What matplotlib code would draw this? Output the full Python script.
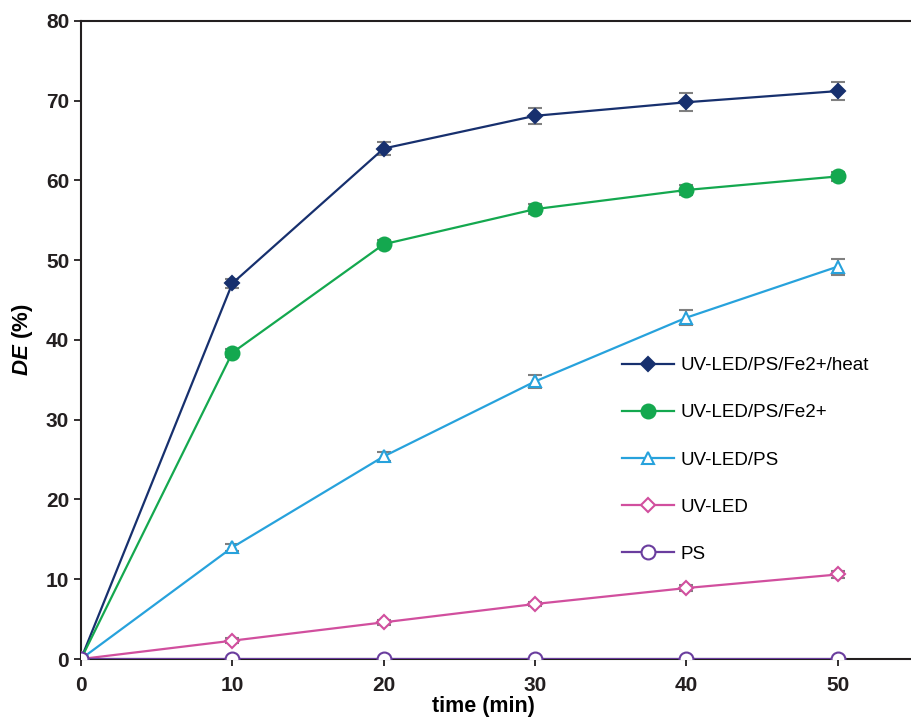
import numpy as np
import matplotlib.pyplot as plt

plt.rcParams["font.family"] = ["Liberation Sans", "DejaVu Sans"]
plt.rcParams["mathtext.fontset"] = "custom"
plt.rcParams["mathtext.bfit"] = "Liberation Sans:italic:bold"
plt.rcParams["mathtext.rm"] = "Liberation Sans:bold"

# %% data
time = [0, 10, 20, 30, 40, 50]

de_heat = [0, 47.1, 64.0, 68.1, 69.8, 71.2]
de_fe = [0, 38.4, 52.0, 56.4, 58.8, 60.5]
de_ps_led = [0, 14.0, 25.4, 34.8, 42.8, 49.2]
de_led = [0, 2.3, 4.6, 6.9, 8.9, 10.6]
de_ps = [0, 0, 0, 0, 0, 0]

err_heat = [0, 0.6, 0.8, 1.0, 1.1, 1.1]
err_fe = [0, 0.5, 0.5, 0.6, 0.6, 0.6]
err_ps_led = [0, 0.4, 0.6, 0.8, 0.9, 1.0]
err_led = [0, 0.3, 0.3, 0.3, 0.4, 0.4]
err_ps = [0, 0, 0, 0, 0, 0]

labels = ['UV-LED/PS/Fe2+/heat', 'UV-LED/PS/Fe2+', 'UV-LED/PS', 'UV-LED', 'PS']

# %% plot
fig = plt.figure(figsize=(9.12, 7.2), dpi=100)
ax = fig.add_axes([0.0888, 0.0847, 0.9112, 0.8863])

# color, marker, facecolor, markersize
series = [
    (de_heat, err_heat, '#17306e', 'D', '#17306e', 7.5),
    (de_fe, err_fe, '#14a84f', 'o', '#14a84f', 10),
    (de_ps_led, err_ps_led, '#27a2dc', '^', 'white', 9),
    (de_led, err_led, '#d14f9e', 'D', 'white', 7),
    (de_ps, err_ps, '#6a3d9e', 'o', 'white', 10),
]

handles = []
for (y, e, c, m, fc, ms), lab in zip(series, labels):
    ax.errorbar(time, y, yerr=e, fmt='none', ecolor='#808080',
                elinewidth=1.5, capsize=5, capthick=1.5, zorder=2)
    h, = ax.plot(time, y, color=c, lw=1.6, marker=m, ms=ms,
                 markerfacecolor=fc, markeredgecolor=c, markeredgewidth=1.5,
                 label=lab, zorder=3)
    handles.append(h)

ax.set_xlim(0, 54.9)
ax.set_ylim(0, 80)
ax.set_xticks([0, 10, 20, 30, 40, 50])
ax.set_yticks(np.arange(0, 81, 10))

ax.spines['right'].set_visible(False)
for s in ['left', 'bottom', 'top']:
    ax.spines[s].set_linewidth(1.5)
    ax.spines[s].set_color('#231f20')

ax.tick_params(axis='both', direction='out', length=5, width=1.3,
               labelsize=15, colors='#231f20')
for t in ax.get_xticklabels() + ax.get_yticklabels():
    t.set_fontweight('bold')
ax.tick_params(axis='x', length=5, pad=7)

ax.set_xlabel('time (min)', fontsize=15.5, fontweight='bold', va='center')
ax.xaxis.set_label_coords(0.484, -0.075)
ax.set_ylabel(r'$\mathbfit{DE}$ (%)', fontsize=16, fontweight='bold', labelpad=8)

fig.legend(handles=handles, loc='upper left', bbox_to_anchor=(0.672, 0.517),
           frameon=False, labelspacing=1.6, handlelength=2.75,
           handletextpad=0.35, borderpad=0,
           prop={'family': ['Liberation Sans', 'DejaVu Sans'], 'size': 13.5})

plt.savefig('out.png', dpi=100)
